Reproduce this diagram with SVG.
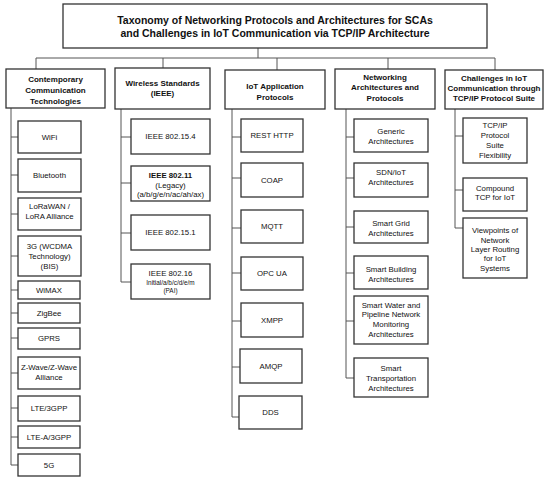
<svg xmlns="http://www.w3.org/2000/svg" width="550" height="480" viewBox="0 0 550 480">
<style>
text{font-family:"Liberation Sans",Arial,sans-serif;fill:#111;text-anchor:middle;dominant-baseline:central}
.t{font-size:10.5px;font-weight:bold}
.h{font-size:8px;font-weight:bold}
.c{font-size:7.8px}
.s{font-size:6.4px}
.b{font-weight:bold}
rect{fill:#fff;stroke:#333;stroke-width:1.3}
.ln{fill:none;stroke:#555;stroke-width:1}
</style>
<rect x="0" y="0" width="550" height="480" style="stroke:none"/>
<g id="connectors" class="ln">
<path d="M258,48V58M36,58H495M36,58V69M163,58V68M277,58V70M388,58V69M495,58V70"/>
<path d="M11,108V465M11,137H18M11,175H18M11,214H18M11,256H18M11,290H18M11,313H18M11,338H18M11,373H18M11,408H18M11,437H18M11,465H18"/>
<path d="M121,109V282M121,137H131M121,183H131M121,233H131M121,282H131"/>
<path d="M232,109V417M232,137H241M232,178H241M232,228H241M232,273H241M232,321H241M232,367H241M232,417H239"/>
<path d="M346,109V378M346,137H354M346,178H354M346,227H354M346,273H354M346,321H354M346,378H354"/>
<path d="M455,109V228M455,136H463M455,190H463M455,228H463"/>
</g>
<g id="title"><rect x="63" y="4" width="424" height="44"/><text class="t" x="275" y="19.5">Taxonomy of Networking Protocols and Architectures for SCAs</text><text class="t" x="275" y="33">and Challenges in IoT Communication via TCP/IP Architecture</text></g>

<g id="h1"><rect x="6" y="69" width="99" height="39"/><text class="h" x="55.5" y="79">Contemporary</text><text class="h" x="55.5" y="90">Communication</text><text class="h" x="55.5" y="101">Technologies</text></g>
<g id="wifi"><rect x="18" y="121" width="63" height="32"/><text class="c" x="49.5" y="137">WiFi</text></g>
<g id="bluetooth"><rect x="18" y="159" width="63" height="33"/><text class="c" x="49.5" y="175.5">Bluetooth</text></g>
<g id="lorawan"><rect x="18" y="198" width="63" height="32"/><text class="c" x="49.5" y="206">LoRaWAN /</text><text class="c" x="49.5" y="216">LoRA Alliance</text></g>
<g id="g3"><rect x="18" y="236" width="63" height="40"/><text class="c" x="49.5" y="246">3G (WCDMA</text><text class="c" x="49.5" y="256">Technology)</text><text class="c" x="49.5" y="266">(BIS)</text></g>
<g id="wimax"><rect x="18" y="281" width="62" height="18"/><text class="c" x="49" y="290">WiMAX</text></g>
<g id="zigbee"><rect x="18" y="303" width="62" height="20"/><text class="c" x="49" y="313">ZigBee</text></g>
<g id="gprs"><rect x="18" y="328" width="62" height="21"/><text class="c" x="49" y="338.5">GPRS</text></g>
<g id="zwave"><rect x="18" y="357" width="62" height="32"/><text class="c" x="49" y="367">Z-Wave/Z-Wave</text><text class="c" x="49" y="377">Alliance</text></g>
<g id="lte"><rect x="18" y="396" width="62" height="25"/><text class="c" x="49" y="408.5">LTE/3GPP</text></g>
<g id="ltea"><rect x="18" y="426" width="62" height="22"/><text class="c" x="49" y="437">LTE-A/3GPP</text></g>
<g id="g5"><rect x="18" y="454" width="62" height="22"/><text class="c" x="49" y="465">5G</text></g>

<g id="h2"><rect x="115" y="68" width="95" height="41"/><text class="h" x="162.5" y="83">Wireless Standards</text><text class="h" x="162.5" y="93">(IEEE)</text></g>
<g id="ieee154"><rect x="131" y="119" width="79" height="35"/><text class="c" x="170.5" y="136.5">IEEE 802.15.4</text></g>
<g id="ieee11"><rect x="131" y="166" width="79" height="35"/><text class="c b" x="170.5" y="175">IEEE 802.11</text><text class="c" x="170.5" y="185">(Legacy)</text><text class="c" x="170.5" y="194">(a/b/g/e/n/ac/ah/ax)</text></g>
<g id="ieee151"><rect x="131" y="215" width="79" height="35"/><text class="c" x="170.5" y="232.5">IEEE 802.15.1</text></g>
<g id="ieee16"><rect x="131" y="264" width="79" height="35"/><text class="c" x="170.5" y="273">IEEE 802.16</text><text class="s" x="170.5" y="282">Initial/a/b/c/d/e/m</text><text class="s" x="170.5" y="290">(PAI)</text></g>

<g id="h3"><rect x="225" y="70" width="100" height="39"/><text class="h" x="275" y="86">IoT Application</text><text class="h" x="275" y="97">Protocols</text></g>
<g id="rest"><rect x="241" y="119" width="62" height="33"/><text class="c" x="272" y="135.5">REST HTTP</text></g>
<g id="coap"><rect x="241" y="163" width="62" height="34"/><text class="c" x="272" y="180">COAP</text></g>
<g id="mqtt"><rect x="241" y="210" width="62" height="33"/><text class="c" x="272" y="226.5">MQTT</text></g>
<g id="opcua"><rect x="241" y="257" width="62" height="33"/><text class="c" x="272" y="273.5">OPC UA</text></g>
<g id="xmpp"><rect x="241" y="303" width="62" height="34"/><text class="c" x="272" y="320">XMPP</text></g>
<g id="amqp"><rect x="240" y="349" width="62" height="34"/><text class="c" x="271" y="366">AMQP</text></g>
<g id="dds"><rect x="239" y="396" width="63" height="33"/><text class="c" x="270.5" y="412.5">DDS</text></g>

<g id="h4"><rect x="335" y="69" width="100" height="40"/><text class="h" x="385" y="77">Networking</text><text class="h" x="385" y="87.5">Architectures and</text><text class="h" x="385" y="98">Protocols</text></g>
<g id="generic"><rect x="354" y="119" width="74" height="33"/><text class="c" x="391" y="131">Generic</text><text class="c" x="391" y="141">Architectures</text></g>
<g id="sdn"><rect x="354" y="163" width="74" height="34"/><text class="c" x="391" y="172">SDN/IoT</text><text class="c" x="391" y="182">Architectures</text></g>
<g id="grid"><rect x="354" y="211" width="74" height="32"/><text class="c" x="391" y="223">Smart Grid</text><text class="c" x="391" y="233">Architectures</text></g>
<g id="building"><rect x="354" y="256" width="74" height="33"/><text class="c" x="391" y="269">Smart Building</text><text class="c" x="391" y="279">Architectures</text></g>
<g id="water"><rect x="354" y="296" width="74" height="48"/><text class="c" x="391" y="305">Smart Water and</text><text class="c" x="391" y="314.5">Pipeline Network</text><text class="c" x="391" y="324">Monitoring</text><text class="c" x="391" y="334">Architectures</text></g>
<g id="transport"><rect x="354" y="358" width="74" height="39"/><text class="c" x="391" y="368">Smart</text><text class="c" x="391" y="378">Transportation</text><text class="c" x="391" y="388">Architectures</text></g>

<g id="h5"><rect x="445" y="70" width="98" height="39"/><text class="h" x="494" y="78">Challenges in IoT</text><text class="h" x="494" y="88">Communication through</text><text class="h" x="494" y="98">TCP/IP Protocol Suite</text></g>
<g id="flex"><rect x="463" y="118" width="64" height="45"/><text class="c" x="495" y="125">TCP/IP</text><text class="c" x="495" y="135.5">Protocol</text><text class="c" x="495" y="145">Suite</text><text class="c" x="495" y="155">Flexibility</text></g>
<g id="compound"><rect x="463" y="178" width="64" height="33"/><text class="c" x="495" y="188">Compound</text><text class="c" x="495" y="197.5">TCP for IoT</text></g>
<g id="viewpoints"><rect x="463" y="218" width="64" height="60"/><text class="c" x="495" y="230">Viewpoints of</text><text class="c" x="495" y="240">Network</text><text class="c" x="495" y="249">Layer Routing</text><text class="c" x="495" y="258.5">for IoT</text><text class="c" x="495" y="268">Systems</text></g>
</svg>
